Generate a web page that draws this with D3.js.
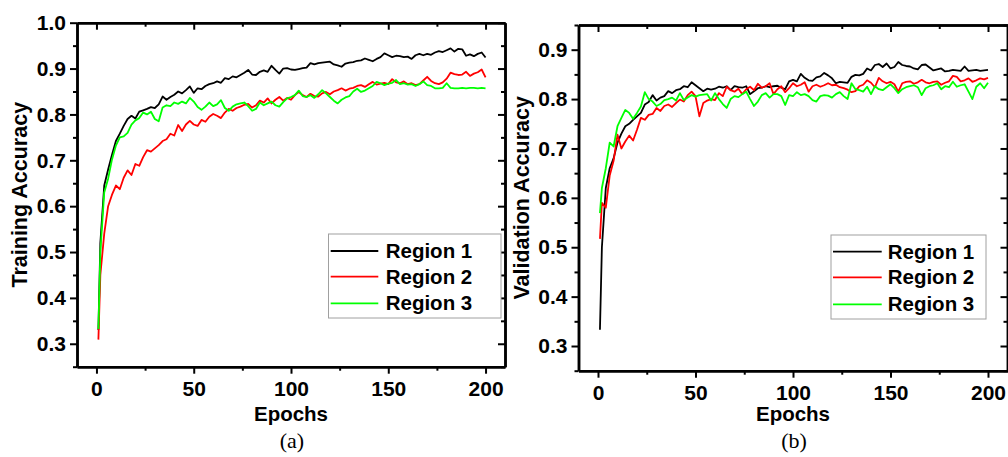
<!DOCTYPE html>
<html>
<head>
<meta charset="utf-8">
<script src="https://cdn.jsdelivr.net/npm/d3@7"></script>
<style>
  body { margin: 0; background: #fff; }
  svg { display: block; }
</style>
</head>
<body>
<div id="svg-container"></div>
<script>
////////////////////////////////////////////////////////////////////
////////////////////////////  Data  ////////////////////////////////
// epochs sampled: 1, 2, 4, 6, ... 200
const epochs = [1, ...d3.range(2, 201, 2)];

const trainRegion1 = [
  0.33, 0.52, 0.645, 0.68, 0.712, 0.742, 0.758, 0.775, 0.79, 0.797, 0.791,
  0.806, 0.809, 0.812, 0.816, 0.814, 0.822, 0.839, 0.832, 0.838, 0.843,
  0.85, 0.846, 0.853, 0.861, 0.847, 0.857, 0.855, 0.862, 0.866, 0.868,
  0.872, 0.869, 0.879, 0.877, 0.883, 0.881, 0.886, 0.891, 0.897, 0.887,
  0.886, 0.893, 0.896, 0.893, 0.906, 0.897, 0.889, 0.9, 0.901, 0.898,
  0.897, 0.899, 0.901, 0.902, 0.912, 0.909, 0.912, 0.913, 0.914, 0.915,
  0.909, 0.907, 0.904, 0.911, 0.913, 0.914, 0.917, 0.918, 0.922, 0.919,
  0.916, 0.921, 0.925, 0.933, 0.929, 0.925, 0.928, 0.927, 0.925, 0.926,
  0.921, 0.929, 0.932, 0.929, 0.932, 0.93, 0.935, 0.938, 0.936, 0.94,
  0.944, 0.937, 0.943, 0.942, 0.928, 0.931, 0.927, 0.932, 0.935, 0.924
];
const trainRegion2 = [
  0.309, 0.45, 0.54, 0.6, 0.625, 0.645, 0.637, 0.662, 0.678, 0.668, 0.692,
  0.688, 0.707, 0.722, 0.719, 0.726, 0.733, 0.742, 0.746, 0.758, 0.754,
  0.777, 0.764, 0.778, 0.786, 0.778, 0.775, 0.788, 0.784, 0.795, 0.801,
  0.797, 0.792, 0.804, 0.812, 0.808, 0.814, 0.817, 0.821, 0.823, 0.815,
  0.82, 0.83, 0.826, 0.835, 0.824, 0.832, 0.838, 0.83, 0.836, 0.832,
  0.842, 0.849, 0.842, 0.838, 0.845, 0.84, 0.839, 0.846, 0.849, 0.844,
  0.85, 0.853, 0.857, 0.852, 0.856, 0.858, 0.862, 0.864, 0.86, 0.866,
  0.871, 0.865, 0.867, 0.869, 0.866, 0.877, 0.87, 0.868, 0.872, 0.866,
  0.868, 0.864, 0.866, 0.874, 0.882, 0.873, 0.868, 0.866, 0.87, 0.878,
  0.891, 0.888, 0.886, 0.887, 0.893, 0.884, 0.889, 0.892, 0.898, 0.881
];
const trainRegion3 = [
  0.332, 0.5, 0.63, 0.66, 0.702, 0.732, 0.75, 0.752, 0.76, 0.778, 0.787,
  0.792, 0.804, 0.8, 0.806, 0.79, 0.785, 0.815, 0.82, 0.818, 0.826,
  0.823, 0.828, 0.824, 0.836, 0.828, 0.816, 0.81, 0.817, 0.826, 0.818,
  0.822, 0.831, 0.814, 0.808, 0.817, 0.822, 0.824, 0.826, 0.818, 0.808,
  0.812, 0.826, 0.82, 0.824, 0.828, 0.82, 0.817, 0.827, 0.835, 0.838,
  0.842, 0.852, 0.84, 0.838, 0.842, 0.836, 0.844, 0.853, 0.846, 0.838,
  0.83, 0.824, 0.832, 0.837, 0.84, 0.85, 0.856, 0.849, 0.852, 0.857,
  0.862, 0.871, 0.868, 0.864, 0.867, 0.869, 0.875, 0.866, 0.868, 0.865,
  0.866, 0.862, 0.866, 0.872, 0.864, 0.862, 0.857, 0.857, 0.858, 0.868,
  0.858, 0.857, 0.857, 0.858, 0.857, 0.858, 0.858, 0.857, 0.858, 0.857
];

const valRegion1 = [
  0.333, 0.5, 0.62, 0.66, 0.68, 0.712, 0.73, 0.745, 0.75, 0.758, 0.765,
  0.772, 0.789, 0.794, 0.808, 0.797, 0.803, 0.806, 0.816, 0.812, 0.818,
  0.82, 0.826, 0.824, 0.834, 0.828, 0.822, 0.816, 0.821, 0.819, 0.821,
  0.825, 0.823, 0.826, 0.818, 0.826, 0.824, 0.823, 0.826, 0.81, 0.816,
  0.822, 0.823, 0.826, 0.824, 0.826, 0.827, 0.823, 0.82, 0.836, 0.839,
  0.836, 0.851, 0.843, 0.838, 0.837, 0.844, 0.846, 0.853, 0.848, 0.842,
  0.832, 0.835, 0.834, 0.833, 0.845, 0.849, 0.848, 0.851, 0.862, 0.858,
  0.869, 0.871, 0.865, 0.872, 0.862, 0.865, 0.875, 0.869, 0.867, 0.866,
  0.862, 0.86, 0.869, 0.87, 0.864, 0.858, 0.86, 0.862, 0.856, 0.857,
  0.859, 0.858, 0.857, 0.866, 0.857, 0.858, 0.859, 0.857, 0.858, 0.859
];
const valRegion2 = [
  0.517, 0.59, 0.58, 0.645, 0.675, 0.728, 0.7, 0.714, 0.726, 0.716, 0.738,
  0.762, 0.758, 0.768, 0.77, 0.782, 0.776, 0.786, 0.789, 0.784, 0.792,
  0.799, 0.795, 0.808, 0.815, 0.806, 0.765, 0.792, 0.797, 0.8, 0.798,
  0.812, 0.806, 0.825, 0.818, 0.815, 0.821, 0.81, 0.82, 0.825, 0.818,
  0.831, 0.823, 0.826, 0.832, 0.81, 0.82, 0.826, 0.814, 0.822, 0.832,
  0.826, 0.829, 0.834, 0.815, 0.826, 0.829, 0.825, 0.828, 0.832, 0.828,
  0.829, 0.824, 0.822, 0.819, 0.814, 0.816, 0.826, 0.829, 0.838, 0.833,
  0.824, 0.843, 0.836, 0.832, 0.835, 0.83, 0.815, 0.832, 0.835, 0.836,
  0.831, 0.834, 0.839, 0.834, 0.832, 0.835, 0.836, 0.829, 0.833, 0.836,
  0.847, 0.845, 0.836, 0.838, 0.842, 0.835, 0.838, 0.842, 0.84, 0.843
];
const valRegion3 = [
  0.569, 0.62, 0.66, 0.712, 0.704, 0.745, 0.762, 0.778, 0.772, 0.76, 0.772,
  0.785, 0.814, 0.8, 0.795, 0.786, 0.79, 0.798, 0.8, 0.803, 0.797,
  0.812, 0.798, 0.803, 0.808, 0.805, 0.808, 0.809, 0.81, 0.797, 0.812,
  0.8, 0.79, 0.782, 0.8, 0.806, 0.804, 0.81, 0.815, 0.8, 0.786,
  0.795, 0.808, 0.812, 0.803, 0.81, 0.81, 0.806, 0.788, 0.808, 0.806,
  0.814, 0.808, 0.81, 0.806, 0.798, 0.795, 0.806, 0.808, 0.807, 0.803,
  0.81, 0.814, 0.806, 0.8, 0.832, 0.82, 0.818, 0.815, 0.825, 0.81,
  0.826, 0.82, 0.818, 0.824, 0.83, 0.822, 0.812, 0.82, 0.824, 0.826,
  0.828, 0.824, 0.808, 0.822, 0.826, 0.828, 0.832, 0.82, 0.826, 0.824,
  0.835, 0.825, 0.828, 0.83, 0.815, 0.8, 0.825, 0.832, 0.822, 0.833
];

const seriesNames = ["Region 1", "Region 2", "Region 3"];
const seriesColors = ["#000000", "#ff0000", "#00ff00"];

const xMajorTicks = [0, 50, 100, 150, 200];
const xMinorTicks = [25, 75, 125, 175];

////////////////////////////////////////////////////////////////////
////////////////////////////  Init  ////////////////////////////////
const width = 1008;
const height = 457;
const sansFont = "'Liberation Sans', Arial, sans-serif";

const svg = d3
  .select("#svg-container")
  .append("svg")
  .attr("width", width)
  .attr("height", height);

const panels = [
  {
    left: 77, right: 505, top: 22.7, bottom: 366.7,
    yDomain: [0.25, 1.0],
    yMajor: d3.range(3, 11).map((d) => d / 10),
    yMinor: d3.range(5, 20, 2).map((d) => d / 20),
    yTitle: "Training Accuracy", yTitleX: 27,
    caption: "(a)",
    series: [trainRegion1, trainRegion2, trainRegion3],
    legend: { x: 328.5, y: 234, w: 172.5, h: 84, x1: 330.7, x2: 378.3, tx: 385.7, rows: [251, 276.7, 303.3] },
  },
  {
    left: 578.5, right: 1007.5, top: 25, bottom: 370.7,
    yDomain: [0.25, 0.95],
    yMajor: d3.range(3, 10).map((d) => d / 10),
    yMinor: d3.range(5, 20, 2).map((d) => d / 20),
    yTitle: "Validation Accuracy", yTitleX: 529,
    caption: "(b)",
    series: [valRegion1, valRegion2, valRegion3],
    legend: { x: 831, y: 235, w: 155, h: 84, x1: 833, x2: 881.7, tx: 887.7, rows: [251.7, 277.3, 304.3] },
  },
];

function styleAxis(sel, labels) {
  sel.attr("font-family", null).attr("font-size", null);
  sel.select(".domain").attr("stroke", "#000").attr("stroke-width", 2.5);
  sel.selectAll(".tick line").attr("stroke", "#000").attr("stroke-width", 2);
  if (labels) {
    sel
      .selectAll(".tick text")
      .attr("font-family", sansFont)
      .attr("font-size", 21)
      .attr("font-weight", "bold")
      .attr("fill", "#000");
  } else {
    sel.selectAll(".tick text").remove();
  }
}

function drawPanel(p) {
  const x = d3.scaleLinear().domain([-10, 210]).range([p.left, p.right]);
  const y = d3.scaleLinear().domain(p.yDomain).range([p.bottom, p.top]);
  const g = svg.append("g");

  // Lines
  const lineGenerator = d3
    .line()
    .x((d, i) => x(epochs[i]))
    .y((d) => y(d));

  p.series.forEach((s, k) => {
    g.append("path")
      .datum(s)
      .attr("d", lineGenerator)
      .attr("fill", "none")
      .attr("stroke", seriesColors[k])
      .attr("stroke-width", 1.8)
      .attr("stroke-linejoin", "round");
  });

  // Minor ticks
  const yMinor = p.yMinor.filter((v) => v >= p.yDomain[0] - 1e-9 && v <= p.yDomain[1] + 1e-9);
  g.append("g").attr("transform", `translate(0,${p.bottom})`)
    .call(d3.axisBottom(x).tickValues(xMinorTicks).tickSize(4).tickSizeOuter(0).tickFormat(""))
    .call(styleAxis, false);
  g.append("g").attr("transform", `translate(0,${p.top})`)
    .call(d3.axisTop(x).tickValues(xMinorTicks).tickSize(-4).tickSizeOuter(0).tickFormat(""))
    .call(styleAxis, false);
  g.append("g").attr("transform", `translate(${p.left},0)`)
    .call(d3.axisLeft(y).tickValues(yMinor).tickSize(4).tickSizeOuter(0).tickFormat(""))
    .call(styleAxis, false);
  g.append("g").attr("transform", `translate(${p.right},0)`)
    .call(d3.axisRight(y).tickValues(yMinor).tickSize(-4).tickSizeOuter(0).tickFormat(""))
    .call(styleAxis, false);

  // Major ticks + labels
  g.append("g").attr("transform", `translate(0,${p.bottom})`)
    .call(d3.axisBottom(x).tickValues(xMajorTicks).tickSize(7).tickSizeOuter(0).tickPadding(7.5))
    .call(styleAxis, true);
  g.append("g").attr("transform", `translate(0,${p.top})`)
    .call(d3.axisTop(x).tickValues(xMajorTicks).tickSize(-7).tickSizeOuter(0).tickFormat(""))
    .call(styleAxis, false);
  g.append("g").attr("transform", `translate(${p.left},0)`)
    .call(d3.axisLeft(y).tickValues(p.yMajor).tickSize(7).tickSizeOuter(0).tickPadding(4).tickFormat(d3.format(".1f")))
    .call(styleAxis, true);
  g.append("g").attr("transform", `translate(${p.right},0)`)
    .call(d3.axisRight(y).tickValues(p.yMajor).tickSize(-7).tickSizeOuter(0).tickFormat(""))
    .call(styleAxis, false);

  // Axis titles
  g.append("text")
    .attr("transform", `translate(${p.yTitleX},${(p.top + p.bottom) / 2}) rotate(-90)`)
    .attr("text-anchor", "middle")
    .attr("font-family", sansFont)
    .attr("font-size", 21.5)
    .attr("font-weight", "bold")
    .text(p.yTitle);

  g.append("text")
    .attr("x", x(100))
    .attr("y", 421)
    .attr("text-anchor", "middle")
    .attr("font-family", sansFont)
    .attr("font-size", 20.5)
    .attr("font-weight", "bold")
    .text("Epochs");

  g.append("text")
    .attr("x", x(100) + 1)
    .attr("y", 448)
    .attr("text-anchor", "middle")
    .attr("font-family", "'Liberation Serif', 'Times New Roman', serif")
    .attr("font-size", 22)
    .text(p.caption);

  // Legend
  const L = p.legend;
  const lg = g.append("g");
  lg.append("rect")
    .attr("x", L.x).attr("y", L.y).attr("width", L.w).attr("height", L.h)
    .attr("fill", "#fff").attr("stroke", "#a0a0a0").attr("stroke-width", 1);
  seriesNames.forEach((name, k) => {
    lg.append("line")
      .attr("x1", L.x1).attr("x2", L.x2)
      .attr("y1", L.rows[k]).attr("y2", L.rows[k])
      .attr("stroke", seriesColors[k]).attr("stroke-width", 1.8);
    lg.append("text")
      .attr("x", L.tx).attr("y", L.rows[k] + 7)
      .attr("font-family", sansFont)
      .attr("font-size", 20.5)
      .attr("font-weight", "bold")
      .text(name);
  });
}

panels.forEach(drawPanel);
</script>
</body>
</html>
